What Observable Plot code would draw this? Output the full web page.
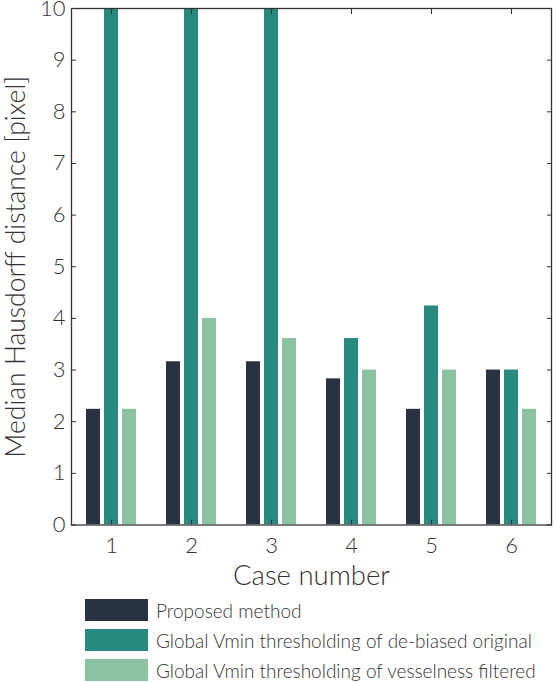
<!DOCTYPE html>
<html>
<head>
<meta charset="utf-8">
<script src="https://cdn.jsdelivr.net/npm/d3@7"></script>
<script src="https://cdn.jsdelivr.net/npm/@observablehq/plot@0.6"></script>
<style>
  html, body { margin: 0; padding: 0; background: #fff; }
  #chart { width: 556px; }
  svg { display: block; font-family: Lato, "DejaVu Sans", sans-serif; }
  [aria-label="y-axis label"] text { font-size: 26.5px; font-weight: 300; }
  [aria-label="fx-axis label"] text { font-size: 27.5px; font-weight: 300; }
  [aria-label="y-axis tick label"] text, [aria-label="fx-axis tick label"] text { font-weight: 300; }
  .legend { font-family: Lato, "DejaVu Sans", sans-serif; font-size: 19px; font-weight: 300; color: #333; padding-left: 85px; padding-top: 3px; }
  .row { display: flex; align-items: center; height: 30px; }
  .sw { width: 63px; height: 22px; margin-right: 8px; flex: none; }
</style>
</head>
<body>
<div id="chart"></div>
<script>
const cases = ["1", "2", "3", "4", "5", "6"];
const seriesNames = [
  "Proposed method",
  "Global Vmin thresholding of de-biased original",
  "Global Vmin thresholding of vesselness filtered"
];
const seriesColors = ["#283241", "#268a7e", "#8bc2a2"];
const proposed = [2.24, 3.16, 3.16, 2.83, 2.24, 3.0];
const debiased = [10, 10, 10, 3.61, 4.24, 3.0];
const vesselness = [2.24, 4.0, 3.61, 3.0, 3.0, 2.24];
const yTicks = [0, 1, 2, 3, 4, 5, 6, 7, 8, 9, 10];

const allSeries = [proposed, debiased, vesselness];
const data = [];
cases.forEach((c, i) => {
  allSeries.forEach((s, j) => data.push({case: c, series: seriesNames[j], value: s[i]}));
});

const ink = "#333";
const plot = Plot.plot({
  width: 556,
  height: 592,
  marginLeft: 68,
  marginRight: 3,
  marginTop: 8,
  marginBottom: 67.5,
  style: {fontSize: "22px", fontFamily: "Lato, 'DejaVu Sans', sans-serif", color: ink},
  fx: {domain: cases, paddingInner: 0, paddingOuter: 0},
  x: {domain: seriesNames, paddingInner: 0.216, paddingOuter: 0.79, axis: null},
  y: {domain: [0, 10]},
  color: {domain: seriesNames, range: seriesColors},
  marks: [
    Plot.barY(data, {fx: "case", x: "series", y: "value", fill: "series", clip: true}),
    Plot.frame({facet: "super", stroke: ink, strokeWidth: 1.3}),
    Plot.axisY({anchor: "left", ticks: yTicks, tickSize: -5, tickPadding: 11,
      label: "Median Hausdorff distance [pixel]", labelAnchor: "center", labelArrow: "none", labelOffset: 65,
      stroke: ink, fill: ink}),
    Plot.axisY({anchor: "right", ticks: yTicks, tickSize: -5, tickFormat: () => "", label: null, stroke: ink}),
    Plot.axisFx({anchor: "bottom", tickSize: -5, tickPadding: 17, label: "Case number",
      labelAnchor: "center", labelArrow: "none", labelOffset: 60, stroke: ink, fill: ink}),
    Plot.axisFx({anchor: "top", tickSize: -5, tickFormat: () => "", label: null, stroke: ink})
  ]
});
document.getElementById("chart").appendChild(plot);

const legend = document.createElement("div");
legend.className = "legend";
seriesNames.forEach((n, i) => {
  const row = document.createElement("div");
  row.className = "row";
  const sw = document.createElement("div");
  sw.className = "sw";
  sw.style.background = seriesColors[i];
  const t = document.createElement("span");
  t.textContent = n;
  row.appendChild(sw);
  row.appendChild(t);
  legend.appendChild(row);
});
document.getElementById("chart").appendChild(legend);
</script>
</body>
</html>
